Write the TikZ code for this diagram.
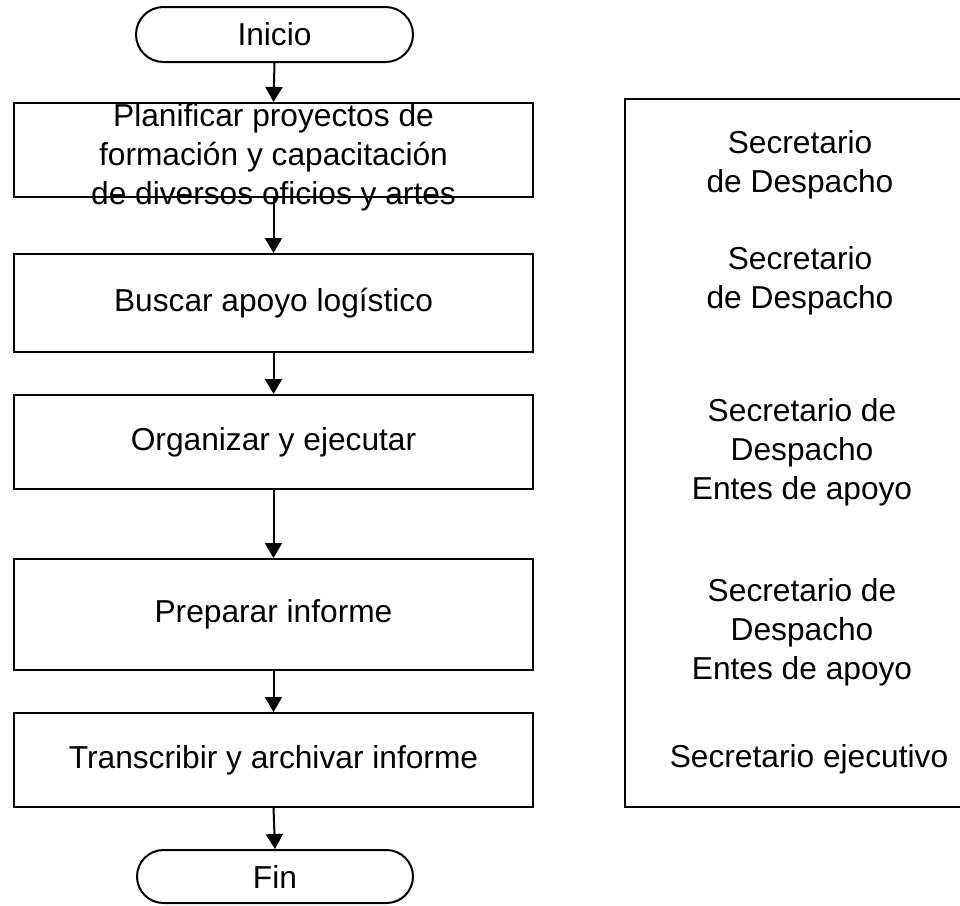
\documentclass[tikz,border=0pt]{standalone}
\usepackage{fontspec}
\setmainfont{Liberation Sans}
\usetikzlibrary{shapes.misc,arrows.meta}
\begin{document}
\begin{tikzpicture}[x=1pt,y=-1pt,
  every node/.style={font=\fontsize{31.7}{39}\selectfont},
  proc/.style={draw,line width=2pt,minimum width=519pt,inner sep=0pt,align=center},
  term/.style={draw,line width=2pt,rounded rectangle,minimum width=277pt,minimum height=55pt,inner sep=0pt},
  flow/.style={line width=2pt,-{Triangle[width=17pt,length=15pt]}},
  lbl/.style={align=center,inner sep=0pt}]
\useasboundingbox (0,0) rectangle (960,905);
% left column
\node[term] (ini) at (274.5,34.5) {Inicio};
\node[proc,minimum height=94pt] (b1) at (273.5,150) {};
\node[lbl] (t1) at (273.5,157) {Planificar proyectos de\\formación y capacitación\\de diversos oficios y artes};
\node[proc,minimum height=98pt] (b2) at (273.5,303) {Buscar apoyo logístico};
\node[proc,minimum height=94pt] (b3) at (273.5,442) {Organizar y ejecutar};
\node[proc,minimum height=111pt] (b4) at (273.5,614.5) {Preparar informe};
\node[proc,minimum height=94pt] (b5) at (273.5,760) {Transcribir y archivar informe};
\node[term,minimum width=276pt,minimum height=53pt] (fin) at (275,876.5) {Fin};
% connectors
\draw[flow] (ini.south) -- (b1.north);
\draw[flow] (b1.south) -- (b2.north);
\draw[flow] (b2.south) -- (b3.north);
\draw[flow] (b3.south) -- (b4.north);
\draw[flow] (b4.south) -- (b5.north);
\draw[flow] (b5.south) -- (fin.north);
% right frame
\draw[line width=2pt] (960,99) -- (625,99) -- (625,807) -- (960,807);
\node[lbl] (r1) at (800,164.5) {Secretario\\de Despacho};
\node[lbl] (r2) at (800,281) {Secretario\\de Despacho};
\node[lbl] (r3) at (802,452) {Secretario de\\Despacho\\Entes de apoyo};
\node[lbl] (r4) at (802,632) {Secretario de\\Despacho\\Entes de apoyo};
\node[lbl] (r5) at (809,759) {Secretario ejecutivo};
\end{tikzpicture}
\end{document}
